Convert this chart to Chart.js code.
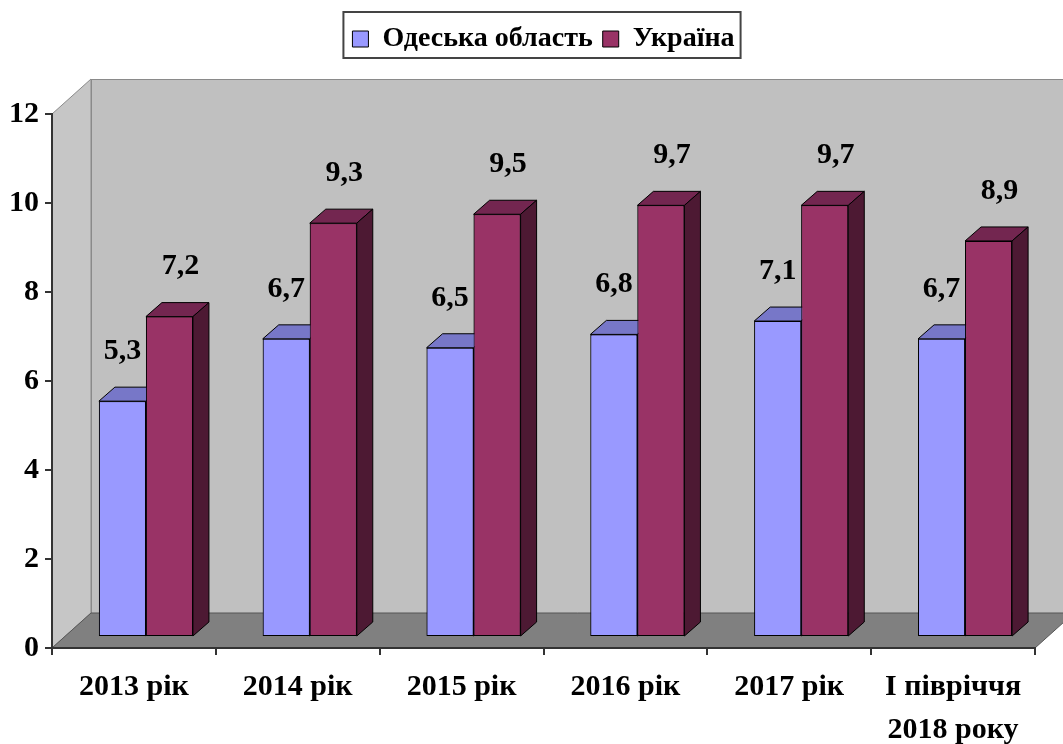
<!DOCTYPE html>
<html>
<head>
<meta charset="utf-8">
<script src="https://cdn.jsdelivr.net/npm/chart.js@4"></script>
<style>
  body { margin: 0; background: #fff; }
  #wrap { width: 1063px; height: 744px; }
</style>
</head>
<body>
<div id="wrap"><canvas id="chart"></canvas></div>
<script>
// chart data
const categories = ['2013 рік', '2014 рік', '2015 рік', '2016 рік', '2017 рік', ['І півріччя', '2018 року']];
const odesaValues = [5.3, 6.7, 6.5, 6.8, 7.1, 6.7];
const ukraineValues = [7.2, 9.3, 9.5, 9.7, 9.7, 8.9];
const seriesNames = ['Одеська область', 'Україна'];
const yTicks = [0, 2, 4, 6, 8, 10, 12];

const FONT = '"Liberation Serif", "Times New Roman", serif';

// 3d look: wall depth, bar plane shift, bar depth
const WALL = { dx: 39, dy: -35 };
const PLANE = { dx: 12, dy: -11 };
const DEPTH = { dx: 16, dy: -14 };

const topColors = ['#7777c8', '#732650'];
const sideColors = ['#5c5ca0', '#4d1933'];

function fmt(v) {
  return v.toFixed(1).replace('.', ',');
}

const threeD = {
  id: 'threeD',
  beforeDraw(chart) {
    const ctx = chart.ctx;
    const a = chart.chartArea;
    ctx.save();
    // back wall
    ctx.fillStyle = '#c0c0c0';
    ctx.fillRect(a.left + WALL.dx, a.top + WALL.dy, a.right - a.left, a.bottom - a.top);
    ctx.strokeStyle = '#8a8a8a';
    ctx.lineWidth = 1;
    ctx.strokeRect(a.left + WALL.dx + 0.5, a.top + WALL.dy + 0.5, a.right - a.left, a.bottom - a.top);
    // side wall
    ctx.beginPath();
    ctx.moveTo(a.left, a.top);
    ctx.lineTo(a.left + WALL.dx, a.top + WALL.dy);
    ctx.lineTo(a.left + WALL.dx, a.bottom + WALL.dy);
    ctx.lineTo(a.left, a.bottom);
    ctx.closePath();
    ctx.fillStyle = '#c6c6c6';
    ctx.fill();
    ctx.stroke();
    // floor
    ctx.beginPath();
    ctx.moveTo(a.left, a.bottom);
    ctx.lineTo(a.left + WALL.dx, a.bottom + WALL.dy);
    ctx.lineTo(a.right + WALL.dx, a.bottom + WALL.dy);
    ctx.lineTo(a.right, a.bottom);
    ctx.closePath();
    ctx.fillStyle = '#808080';
    ctx.fill();
    ctx.strokeStyle = '#555';
    ctx.stroke();
    ctx.restore();
  },
  beforeDatasetsDraw(chart) {
    chart.ctx.save();
    chart.ctx.translate(PLANE.dx, PLANE.dy);
  },
  afterDatasetsDraw(chart) {
    const ctx = chart.ctx;
    const metas = [chart.getDatasetMeta(0), chart.getDatasetMeta(1)];

    function box(el, di) {
      const l = el.x - el.width / 2, r = el.x + el.width / 2;
      ctx.lineWidth = 1;
      ctx.strokeStyle = '#000';
      // top face
      ctx.beginPath();
      ctx.moveTo(l, el.y);
      ctx.lineTo(r, el.y);
      ctx.lineTo(r + DEPTH.dx, el.y + DEPTH.dy);
      ctx.lineTo(l + DEPTH.dx, el.y + DEPTH.dy);
      ctx.closePath();
      ctx.fillStyle = topColors[di];
      ctx.fill();
      ctx.stroke();
      // right face
      ctx.beginPath();
      ctx.moveTo(r, el.y);
      ctx.lineTo(r + DEPTH.dx, el.y + DEPTH.dy);
      ctx.lineTo(r + DEPTH.dx, el.base + DEPTH.dy);
      ctx.lineTo(r, el.base);
      ctx.closePath();
      ctx.fillStyle = sideColors[di];
      ctx.fill();
      ctx.stroke();
    }

    metas[0].data.forEach((el, i) => {
      box(el, 0);
      el.draw(ctx);
      metas[1].data[i].draw(ctx);
      box(metas[1].data[i], 1);
    });

    // value labels
    ctx.fillStyle = '#000';
    ctx.font = 'bold 30px ' + FONT;
    ctx.textAlign = 'center';
    ctx.textBaseline = 'middle';
    const shift = [0, 11];
    metas.forEach((m, di) => {
      const vals = chart.data.datasets[di].data;
      m.data.forEach((el, i) => {
        ctx.fillText(fmt(vals[i]), el.x + shift[di], el.y - 50);
      });
    });
    ctx.restore();
  },
  afterDraw(chart) {
    // frame round the legend
    const lg = chart.legend;
    if (!lg || !lg.legendHitBoxes.length) return;
    const hb = lg.legendHitBoxes;
    const left = Math.min(...hb.map(h => h.left)) - 9;
    const right = Math.max(...hb.map(h => h.left + h.width)) + 6;
    const cy = hb[0].top + hb[0].height / 2;
    const ctx = chart.ctx;
    ctx.save();
    ctx.strokeStyle = '#444';
    ctx.lineWidth = 2;
    ctx.strokeRect(left, cy - 27, right - left, 46);
    ctx.restore();
  }
};

const ctx = document.getElementById('chart').getContext('2d');

new Chart(ctx, {
  type: 'bar',
  data: {
    labels: categories,
    datasets: [
      { label: seriesNames[0], data: odesaValues, backgroundColor: '#9999ff' },
      { label: seriesNames[1], data: ukraineValues, backgroundColor: '#993366' }
    ]
  },
  options: {
    responsive: true,
    maintainAspectRatio: false,
    animation: false,
    datasets: {
      bar: {
        borderColor: '#000',
        borderWidth: 1,
        borderSkipped: false,
        barPercentage: 1,
        categoryPercentage: 0.574
      }
    },
    layout: { padding: { top: 15, right: 28, left: 0, bottom: 0 } },
    plugins: {
      legend: {
        position: 'top',
        fullSize: false,
        weight: 3000,
        labels: {
          color: '#000',
          font: { family: FONT, size: 28, weight: 'bold' },
          boxWidth: 16,
          boxHeight: 16,
          padding: 10
        }
      },
      title: {
        display: true,
        text: ' ',
        color: 'rgba(0,0,0,0)',
        font: { size: 10, lineHeight: 1.2 },
        padding: { top: 0, bottom: 39 }
      },
      tooltip: { enabled: false }
    },
    scales: {
      x: {
        afterFit(s) { s.height = 96; },
        grid: { offset: true, drawOnChartArea: false, tickLength: 7, color: '#333', lineWidth: 2 },
        border: { color: '#333', width: 2 },
        ticks: {
          color: '#000',
          padding: 10,
          maxRotation: 0,
          font: { family: FONT, size: 30, weight: 'bold', lineHeight: 1.45 }
        }
      },
      y: {
        min: 0,
        max: 12,
        afterFit(s) { s.width = 52; },
        afterBuildTicks(s) { s.ticks = yTicks.map(v => ({ value: v })); },
        grid: { drawOnChartArea: false, tickLength: 7, color: '#333', lineWidth: 2 },
        border: { color: '#333', width: 2 },
        ticks: {
          color: '#000',
          padding: 6,
          font: { family: FONT, size: 30, weight: 'bold' }
        }
      }
    }
  },
  plugins: [threeD]
});
</script>
</body>
</html>
